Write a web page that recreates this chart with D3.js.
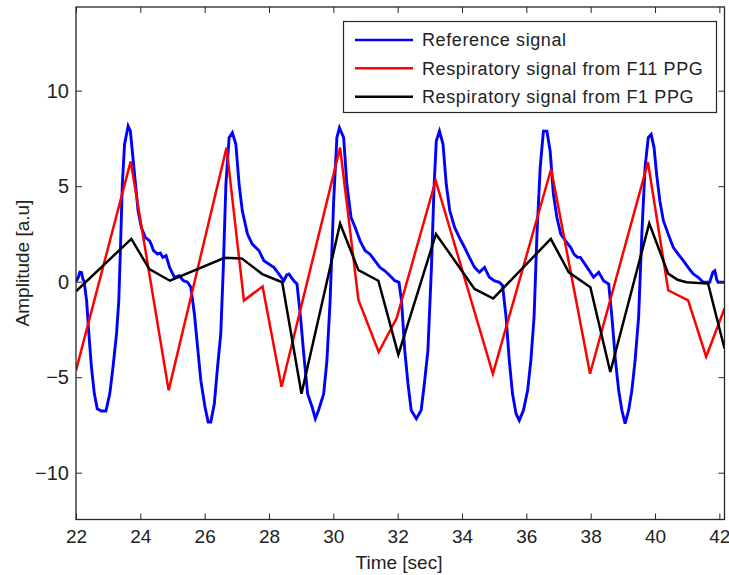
<!DOCTYPE html>
<html>
<head>
<meta charset="utf-8">
<script src="https://cdn.jsdelivr.net/npm/d3@7"></script>
<style>
  html, body { margin: 0; padding: 0; background: #fff; }
  svg { display: block; font-family: "Liberation Sans", Arial, sans-serif; }
</style>
</head>
<body>
<svg id="chart" width="729" height="575"></svg>
<script>
// ---------------- data ----------------
const refT = [22.00,22.07,22.12,22.17,22.22,22.25,22.33,22.40,22.48,22.57,22.66,22.79,22.93,23.05,23.15,23.26,23.33,23.38,23.44,23.51,23.62,23.69,23.77,23.86,23.93,24.03,24.16,24.29,24.35,24.41,24.54,24.62,24.70,24.80,24.91,25.06,25.21,25.34,25.47,25.57,25.68,25.78,25.88,26.01,26.11,26.19,26.30,26.40,26.50,26.58,26.66,26.76,26.86,26.97,27.07,27.17,27.33,27.48,27.58,27.69,27.84,28.00,28.15,28.31,28.46,28.55,28.62,28.77,28.87,28.98,29.08,29.20,29.34,29.44,29.54,29.70,29.80,29.90,30.01,30.11,30.19,30.32,30.42,30.55,30.68,30.83,30.99,31.14,31.29,31.45,31.60,31.76,31.91,32.04,32.12,32.22,32.32,32.42,32.58,32.73,32.83,32.94,33.05,33.13,33.20,33.30,33.41,33.51,33.62,33.77,33.92,34.08,34.23,34.39,34.54,34.70,34.85,35.00,35.16,35.26,35.37,35.47,35.57,35.68,35.78,35.91,36.04,36.14,36.24,36.33,36.43,36.53,36.64,36.74,36.84,36.95,37.07,37.22,37.38,37.48,37.59,37.68,37.89,38.09,38.25,38.40,38.56,38.66,38.77,38.87,38.97,39.07,39.18,39.28,39.38,39.49,39.59,39.69,39.79,39.88,39.97,40.05,40.15,40.26,40.41,40.57,40.72,40.88,41.03,41.19,41.34,41.50,41.70,41.80,41.86,41.92,41.96,42.16];
const refV = [0.00,0.22,0.50,0.48,0.10,0.05,-1.00,-2.73,-4.47,-5.87,-6.65,-6.77,-6.77,-5.87,-4.47,-2.73,-1.00,1.62,5.10,7.20,8.15,7.88,6.49,4.92,3.71,2.84,2.31,2.14,1.90,1.62,1.44,1.50,1.27,1.36,0.75,0.23,0.31,0.05,-0.03,-0.29,-1.68,-3.43,-5.17,-6.56,-7.35,-7.35,-6.39,-4.47,-2.73,0.75,5.10,7.54,7.80,7.19,5.10,3.71,2.49,1.97,1.80,1.62,1.10,0.92,0.75,0.40,0.05,0.35,0.40,0.05,-0.12,-1.86,-3.78,-5.87,-6.56,-7.17,-6.73,-5.87,-4.13,-1.00,4.23,7.54,8.06,7.54,5.10,3.36,2.84,2.14,1.62,1.44,1.10,0.75,0.57,0.31,0.05,-0.03,-1.00,-3.60,-5.34,-6.73,-7.17,-6.73,-5.34,-3.60,0.75,4.93,7.36,7.88,7.19,5.10,3.71,2.84,2.31,1.79,1.27,0.75,0.49,0.75,0.23,0.05,-0.03,-0.20,-1.86,-4.13,-5.87,-6.91,-7.26,-6.73,-5.69,-4.13,-1.86,2.49,5.97,7.88,7.88,6.84,4.58,3.36,2.49,2.14,1.79,1.44,1.27,1.27,0.75,0.23,0.49,0.05,-0.12,-1.86,-4.13,-5.69,-6.73,-7.43,-6.73,-5.69,-4.13,-1.86,2.49,5.97,7.54,7.71,7.02,5.62,4.23,3.19,2.49,1.79,1.44,1.10,0.75,0.40,0.23,-0.03,-0.03,0.50,0.57,0.10,-0.03,-0.03];

const f11T = [22.00,23.70,24.88,26.68,27.22,27.80,28.39,30.21,30.78,31.41,31.97,33.18,34.96,36.77,37.98,39.78,40.41,41.03,41.59,42.16];
const f11V = [-4.65,6.30,-5.69,7.02,-0.99,-0.25,-5.50,7.02,-0.95,-3.68,-1.90,5.30,-4.82,5.90,-4.82,6.25,-0.45,-0.98,-3.93,-1.40];

const f1T = [22.00,23.72,24.28,24.92,26.62,27.15,27.79,28.41,29.01,30.21,30.78,31.40,32.02,33.19,34.39,34.97,36.76,37.32,37.99,38.61,39.82,40.41,40.70,40.98,41.65,42.16];
const f1V = [-0.50,2.24,0.66,0.05,1.25,1.22,0.40,-0.03,-5.87,3.05,0.60,0.05,-3.82,2.50,-0.38,-0.88,2.24,0.49,-0.29,-4.73,3.05,0.42,0.10,-0.03,-0.10,-3.50];

const xTicks = [22,24,26,28,30,32,34,36,38,40,42];
const yTicks = [-10,-5,0,5,10];
const seriesNames = ["Reference signal","Respiratory signal from F11 PPG","Respiratory signal from F1 PPG"];
const seriesColors = ["#0000ff","#ff0000","#000000"];
const xTitle = "Time [sec]";
const yTitle = "Amplitude [a.u]";

// ---------------- layout ----------------
const L = 76, R = 724.5, T = 7, B = 519.5;
const x = d3.scaleLinear().domain([22, 42.16]).range([L, R]);
const y = d3.scaleLinear().domain([-12.45, 14.38]).range([B, T]);

const svg = d3.select("#chart");
const axisColor = "#262626";

svg.append("defs").append("clipPath").attr("id","clip")
  .append("rect").attr("x",L).attr("y",T).attr("width",R-L).attr("height",B-T);

// series
const series = [
  {t: refT, v: refV},
  {t: f11T, v: f11V},
  {t: f1T, v: f1V}
];
const line = d3.line().x(d => x(d[0])).y(d => y(d[1]));
const g = svg.append("g").attr("clip-path","url(#clip)");
series.forEach((s, i) => {
  const pts = s.t.map((t, k) => [t, s.v[k]]);
  g.append("path").datum(pts)
    .attr("d", line)
    .attr("fill","none")
    .attr("stroke", seriesColors[i])
    .attr("stroke-width", i === 0 ? 2.9 : 2.5)
    .attr("stroke-linejoin","miter");
});

// axes
function styleAxis(sel, fs) {
  sel.select(".domain").remove();
  sel.selectAll(".tick line").attr("stroke", axisColor).attr("stroke-width", 1);
  sel.selectAll(".tick text").attr("fill", "#222").attr("font-size", fs)
     .attr("font-family", '"Liberation Sans", Arial, sans-serif');
}
svg.append("g").attr("transform",`translate(0,${B})`)
  .call(d3.axisBottom(x).tickValues(xTicks).tickSize(-6).tickPadding(10).tickFormat(d3.format("d")))
  .call(styleAxis, 19);
svg.append("g").attr("transform",`translate(0,${T})`)
  .call(d3.axisTop(x).tickValues(xTicks).tickSize(-6).tickFormat(""))
  .call(styleAxis, 19);
svg.append("g").attr("transform",`translate(${L},0)`)
  .call(d3.axisLeft(y).tickValues(yTicks).tickSize(-6).tickPadding(7).tickFormat(d3.format("d")))
  .call(styleAxis, 20);
svg.append("g").attr("transform",`translate(${R},0)`)
  .call(d3.axisRight(y).tickValues(yTicks).tickSize(-6).tickFormat(""))
  .call(styleAxis, 20);

// box
svg.append("rect").attr("x",L).attr("y",T).attr("width",R-L).attr("height",B-T)
  .attr("fill","none").attr("stroke",axisColor).attr("stroke-width",1.3);

// titles
svg.append("text").attr("x", 399).attr("y", 569)
  .attr("text-anchor","middle").attr("font-size",19).attr("fill","#222").text(xTitle);
svg.append("text").attr("transform","translate(29,263) rotate(-90)")
  .attr("text-anchor","middle").attr("font-size",19).attr("fill","#222").text(yTitle);

// legend
const lg = svg.append("g");
lg.append("rect").attr("x",343.5).attr("y",21.5).attr("width",373).attr("height",91)
  .attr("fill","#fff").attr("stroke",axisColor).attr("stroke-width",1.2);
const rowY = [40, 68.3, 96.7];
seriesNames.forEach((name, i) => {
  lg.append("line").attr("x1",355).attr("x2",413).attr("y1",rowY[i]).attr("y2",rowY[i])
    .attr("stroke",seriesColors[i]).attr("stroke-width",2.5);
  lg.append("text").attr("x",422).attr("y",rowY[i]).attr("dy","0.35em")
    .attr("font-size",18).attr("letter-spacing","0.6px").attr("fill","#222").text(name);
});
</script>
</body>
</html>
